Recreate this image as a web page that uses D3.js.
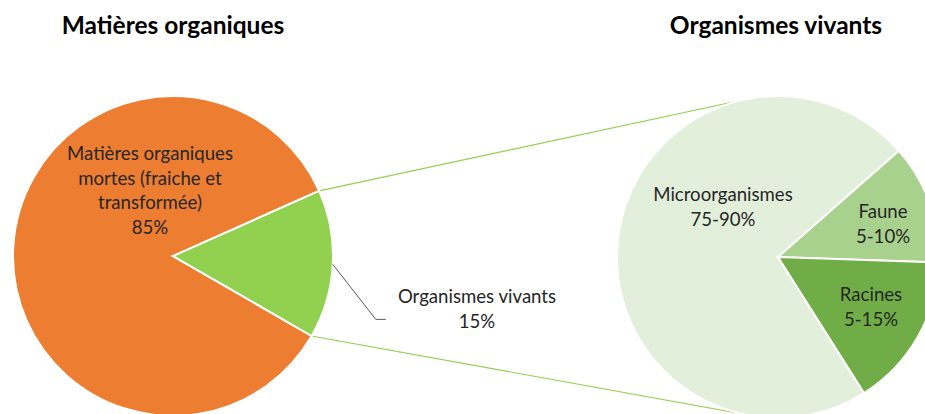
<!DOCTYPE html>
<html>
<head>
<meta charset="utf-8">
<script src="https://cdn.jsdelivr.net/npm/d3@7"></script>
<style>
  body { margin: 0; background: #fff; }
  svg { display: block; font-family: Lato, "Open Sans", sans-serif; }
</style>
</head>
<body>
<svg id="chart" width="925" height="414"></svg>
<script>
// data
const mainTitle = "Matières organiques";
const mainCategories = [["Matières organiques", "mortes (fraiche et", "transformée)"], ["Organismes vivants"]];
const mainValues = [85, 15];
const mainLabels = ["85%", "15%"];

const subTitle = "Organismes vivants";
const subCategories = ["Microorganismes", "Faune", "Racines"];
const subValues = [72.5, 12, 15.5];
const subLabels = ["75-90%", "5-10%", "5-15%"];

const mainColors = ["#ED7D31", "#92D050"];
const subColors = ["#E2EFDA", "#A9D18E", "#70AD47"];

const deg = Math.PI / 180;
const svg = d3.select("#chart");

// left pie
const L = {cx: 173, cy: 256, r: 160};
const R = {cx: 778, cy: 257, r: 161};

const pieMain = d3.pie().sort(null).startAngle(120 * deg).endAngle(480 * deg);
const pieSub = d3.pie().sort(null).startAngle(147.7 * deg).endAngle(507.7 * deg);

const arcL = d3.arc().innerRadius(0).outerRadius(L.r);
const arcR = d3.arc().innerRadius(0).outerRadius(R.r);

const mainArcs = pieMain(mainValues);
const subArcs = pieSub(subValues);

const polar = (c, r, a) => [c.cx + r * Math.sin(a), c.cy - r * Math.cos(a)];

// connector lines (drawn first, under pies)
const green = mainArcs[1];
const p1 = polar(L, L.r, green.startAngle);
const p2 = polar(L, L.r, green.endAngle);
const q1 = polar(R, R.r, -13.6 * deg);
const q2 = polar(R, R.r, 193.6 * deg);
svg.append("g")
  .selectAll("line")
  .data([[p1, q1], [p2, q2]])
  .join("line")
    .attr("x1", d => d[0][0]).attr("y1", d => d[0][1])
    .attr("x2", d => d[1][0]).attr("y2", d => d[1][1])
    .attr("stroke", "#92D050")
    .attr("stroke-width", 1.2);

svg.append("g")
  .attr("transform", `translate(${L.cx},${L.cy})`)
  .selectAll("path")
  .data(mainArcs)
  .join("path")
    .attr("d", arcL)
    .attr("fill", (d, i) => mainColors[i])
    .attr("stroke", "#fff")
    .attr("stroke-width", 2);

svg.append("g")
  .attr("transform", `translate(${R.cx},${R.cy})`)
  .selectAll("path")
  .data(subArcs)
  .join("path")
    .attr("d", arcR)
    .attr("fill", (d, i) => subColors[i])
    .attr("stroke", "#fff")
    .attr("stroke-width", 2);

// titles
svg.append("text")
  .attr("x", 173).attr("y", 34)
  .attr("text-anchor", "middle")
  .attr("font-size", 24.5).attr("font-weight", "bold")
  .attr("fill", "#000")
  .text(mainTitle);
svg.append("text")
  .attr("x", 776).attr("y", 34)
  .attr("text-anchor", "middle")
  .attr("font-size", 24.5).attr("font-weight", "bold")
  .attr("fill", "#000")
  .text(subTitle);

// labels
const lineH = 24.5;
function label(x, y, lines) {
  const t = svg.append("text")
    .attr("text-anchor", "middle")
    .attr("font-size", 18.6)
    .attr("fill", "#262626");
  lines.forEach((s, i) => {
    t.append("tspan").attr("x", x).attr("y", y + i * lineH).text(s);
  });
}

// main pie labels
label(150, 160, mainCategories[0].concat(mainLabels[0]));
const mid = (green.startAngle + green.endAngle) / 2;
const s0 = polar(L, L.r, mid);
svg.append("polyline")
  .attr("points", [s0, [s0[0] + 43, s0[1] + 55], [s0[0] + 53, s0[1] + 55]].map(p => p.join(",")).join(" "))
  .attr("fill", "none")
  .attr("stroke", "#595959")
  .attr("stroke-width", 1);
label(477, 303, mainCategories[1].concat(mainLabels[1]));

// sub pie labels
const subPos = [[-55, -56], [105, -39], [93, 44]];
subArcs.forEach((d, i) => {
  label(R.cx + subPos[i][0], R.cy + subPos[i][1], [subCategories[i], subLabels[i]]);
});
</script>
</body>
</html>
